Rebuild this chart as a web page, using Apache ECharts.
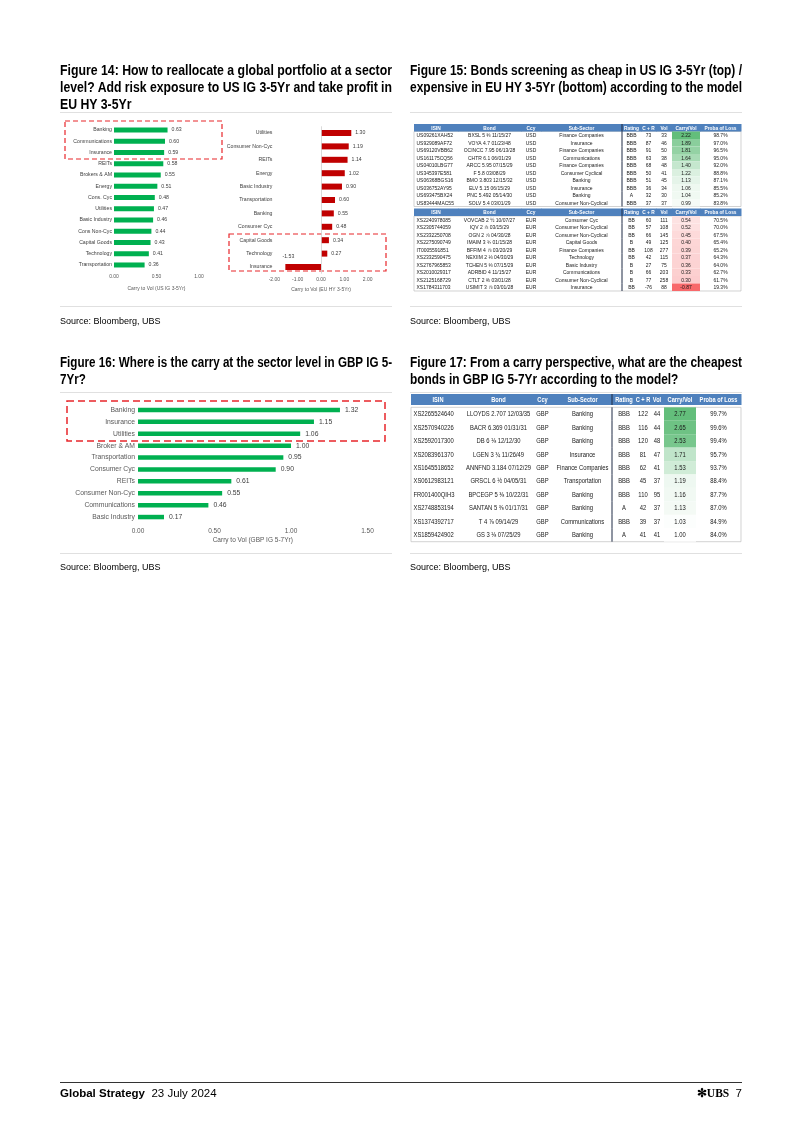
<!DOCTYPE html>
<html><head><meta charset="utf-8">
<script src="https://cdn.jsdelivr.net/npm/echarts@6/dist/echarts.min.js"></script>
<style>
html,body{margin:0;padding:0;background:#fff;}
#page{position:relative;width:802px;height:1134px;overflow:hidden;background:#fff;font-family:'Liberation Sans',Arial,sans-serif;}
#chart{position:absolute;left:0;top:0;width:802px;height:1134px;}
.title{position:absolute;font-weight:bold;font-size:14px;line-height:17px;color:#000;font-family:'Liberation Sans Narrow','Liberation Sans',Arial,sans-serif;}
.tl{white-space:nowrap;height:17px;}
.tl span{display:inline-block;transform-origin:0 50%;}
.sep{position:absolute;height:0;border-top:1px solid #e0e0e0;}
.src{position:absolute;font-size:9px;line-height:12px;color:#000;white-space:nowrap;}
.foot{position:absolute;font-size:11.5px;line-height:14px;color:#000;white-space:nowrap;}
</style></head>
<body>
<div id="page">
  <div id="chart"></div>

  <div class="title" style="left:60px;top:61.5px;" data-w="332">
    <div class="tl full"><span>Figure 14: How to reallocate a global portfolio at a sector</span></div>
    <div class="tl full"><span>level? Add risk exposure to US IG 3-5Yr and take profit in</span></div>
    <div class="tl"><span>EU HY 3-5Yr</span></div>
  </div>
  <div class="title" style="left:410px;top:61.5px;" data-w="332">
    <div class="tl full"><span>Figure 15: Bonds screening as cheap in US IG 3-5Yr (top) /</span></div>
    <div class="tl full"><span>expensive in EU HY 3-5Yr (bottom) according to the model</span></div>
  </div>
  <div class="title" style="left:60px;top:353.5px;" data-w="332">
    <div class="tl full"><span>Figure 16: Where is the carry at the sector level in GBP IG 5-</span></div>
    <div class="tl"><span>7Yr?</span></div>
  </div>
  <div class="title" style="left:410px;top:353.5px;" data-w="332">
    <div class="tl full"><span>Figure 17: From a carry perspective, what are the cheapest</span></div>
    <div class="tl"><span>bonds in GBP IG 5-7Yr according to the model?</span></div>
  </div>

  <div class="sep" style="left:60px;top:112px;width:332px;"></div>
  <div class="sep" style="left:410px;top:112px;width:332px;"></div>
  <div class="sep" style="left:60px;top:306px;width:332px;"></div>
  <div class="sep" style="left:410px;top:306px;width:332px;"></div>
  <div class="sep" style="left:60px;top:392px;width:332px;"></div>
  <div class="sep" style="left:410px;top:392px;width:332px;"></div>
  <div class="sep" style="left:60px;top:553px;width:332px;"></div>
  <div class="sep" style="left:410px;top:553px;width:332px;"></div>

  <div class="src" style="left:60px;top:315px;">Source: Bloomberg, UBS</div>
  <div class="src" style="left:410px;top:315px;">Source: Bloomberg, UBS</div>
  <div class="src" style="left:60px;top:561px;">Source: Bloomberg, UBS</div>
  <div class="src" style="left:410px;top:561px;">Source: Bloomberg, UBS</div>

  <div style="position:absolute;left:60px;top:1082px;width:682px;height:0;border-top:1.5px solid #333;"></div>
  <div class="foot" style="left:60px;top:1086px;"><b>Global Strategy</b>&nbsp; 23 July 2024</div>
  <div class="foot" style="right:60px;top:1086px;"><span style="font-family:'Liberation Serif',serif;font-weight:bold;">✻UBS</span>&nbsp; 7</div>
</div>
<script>
// ---------- DATA ----------
const usigCats = ['Banking','Communications','Insurance','REITs','Brokers & AM','Energy','Cons. Cyc','Utilities','Basic Industry','Cons Non-Cyc','Capital Goods','Technology','Transportation'];
const usigVals = [0.63,0.60,0.59,0.58,0.55,0.51,0.48,0.47,0.46,0.44,0.43,0.41,0.36];

const euhyCats = ['Utilities','Consumer Non-Cyc','REITs','Energy','Basic Industry','Transportation','Banking','Consumer Cyc','Capital Goods','Technology','Insurance'];
const euhyVals = [1.30,1.19,1.14,1.02,0.90,0.60,0.55,0.48,0.34,0.27,-1.53];

const gbpCats = ['Banking','Insurance','Utilities','Broker & AM','Transportation','Consumer Cyc','REITs','Consumer Non-Cyc','Communications','Basic Industry'];
const gbpVals = [1.32,1.15,1.06,1.00,0.95,0.90,0.61,0.55,0.46,0.17];

const tableCols = ['ISIN','Bond','Ccy','Sub-Sector','Rating','C + R','Vol','Carry/Vol','Proba of Loss'];

const usigBonds = [
 ['US09261XAH52','BXSL 5 ⅜ 11/15/27','USD','Finance Companies','BBB',73,33,2.22,'98.7%'],
 ['US929089AF72','VOYA 4.7 01/23/48','USD','Insurance','BBB',87,46,1.89,'97.0%'],
 ['US69120VBB62','OCINCC 7.95 06/13/28','USD','Finance Companies','BBB',91,50,1.81,'96.5%'],
 ['US161175CQ56','CHTR 6.1 06/01/29','USD','Communications','BBB',63,38,1.64,'95.0%'],
 ['US04010LBG77','ARCC 5.95 07/15/29','USD','Finance Companies','BBB',68,48,1.40,'92.0%'],
 ['US345397E581','F 5.8 03/08/29','USD','Consumer Cyclical','BBB',50,41,1.22,'88.8%'],
 ['US06368BGS16','BMO 3.803 12/15/32','USD','Banking','BBB',51,45,1.13,'87.1%'],
 ['US036752AY95','ELV 5.15 06/15/29','USD','Insurance','BBB',36,34,1.06,'85.5%'],
 ['US693475BX24','PNC 5.492 05/14/30','USD','Banking','A',32,30,1.04,'85.2%'],
 ['US83444MAC55','SOLV 5.4 03/01/29','USD','Consumer Non-Cyclical','BBB',37,37,0.99,'83.8%']
];
const euhyBonds = [
 ['XS2240978085','VOVCAB 2 ½ 10/07/27','EUR','Consumer Cyc','BB',60,111,0.54,'70.5%'],
 ['XS2305744059','IQV 2 ⅞ 03/15/29','EUR','Consumer Non-Cyclical','BB',57,108,0.52,'70.0%'],
 ['XS2332250708','OGN 2 ⅞ 04/30/28','EUR','Consumer Non-Cyclical','BB',66,145,0.45,'67.5%'],
 ['XS2275090749','IMAIM 3 ¾ 01/15/28','EUR','Capital Goods','B',49,125,0.40,'65.4%'],
 ['IT0005591851','BFFIM 4 ⅞ 03/20/29','EUR','Finance Companies','BB',108,277,0.39,'65.2%'],
 ['XS2332590475','NEXIIM 2 ⅛ 04/30/29','EUR','Technology','BB',42,115,0.37,'64.3%'],
 ['XS2767965853','TCHEN 5 ⅜ 07/15/29','EUR','Basic Industry','B',27,75,0.36,'64.0%'],
 ['XS2010029317','ADRBID 4 11/15/27','EUR','Communications','B',66,203,0.33,'62.7%'],
 ['XS2125168729','CTLT 2 ⅜ 03/01/28','EUR','Consumer Non-Cyclical','B',77,258,0.30,'61.7%'],
 ['XS1784311703','USIMIT 3 ⅞ 03/01/28','EUR','Insurance','BB',-76,88,-0.87,'19.3%']
];
const gbpBonds = [
 ['XS2265524640','LLOYDS 2.707 12/03/35','GBP','Banking','BBB',122,44,2.77,'99.7%'],
 ['XS2570940226','BACR 6.369 01/31/31','GBP','Banking','BBB',116,44,2.65,'99.6%'],
 ['XS2592017300','DB 6 ⅛ 12/12/30','GBP','Banking','BBB',120,48,2.53,'99.4%'],
 ['XS2083961370','LGEN 3 ¾ 11/26/49','GBP','Insurance','BBB',81,47,1.71,'95.7%'],
 ['XS1645518652','ANNFND 3.184 07/12/29','GBP','Finance Companies','BBB',62,41,1.53,'93.7%'],
 ['XS0612983121','GRSCL 6 ½ 04/05/31','GBP','Transportation','BBB',45,37,1.19,'88.4%'],
 ['FR001400QIH3','BPCEGP 5 ⅜ 10/22/31','GBP','Banking','BBB',110,95,1.16,'87.7%'],
 ['XS2748853194','SANTAN 5 ⅜ 01/17/31','GBP','Banking','A',42,37,1.13,'87.0%'],
 ['XS1374392717','T 4 ⅞ 09/14/29','GBP','Communications','BBB',39,37,1.03,'84.9%'],
 ['XS1859424902','GS 3 ⅛ 07/25/29','GBP','Banking','A',41,41,1.00,'84.0%']
];

// ---------- TITLES fit ----------
document.querySelectorAll('.title').forEach(t => {
  const W = +t.dataset.w;
  let sc = null;
  t.querySelectorAll('.tl.full span').forEach(s => {
    const w = s.getBoundingClientRect().width;
    const k = W / w; if (sc === null) sc = k;
    s.style.transform = 'scaleX(' + k + ')';
  });
  t.querySelectorAll('.tl:not(.full) span').forEach(s => { s.style.transform = 'scaleX(' + sc + ')'; });
});

// ---------- CHART ----------
const FONT = "'Liberation Sans', Arial, sans-serif";
const GREEN = '#00b050', RED = '#c00000';
const CONDENSE = 0.86;
const chart = echarts.init(document.getElementById('chart'), null, {renderer:'canvas'});

function f2(v){ return (+v).toFixed(2); }
function hideAxisParts(o){ o.axisLine={show:false}; o.axisTick={show:false}; o.splitLine={show:false}; return o; }

const option = {
  animation:false,
  grid:[], xAxis:[], yAxis:[], series:[],
  textStyle:{fontFamily:FONT}
};

function barPanel(cfg){
  const gi = option.grid.length;
  option.grid.push({left:cfg.left, top:cfg.top, width:cfg.width, height:cfg.height, outerBoundsMode:'none', containLabel:false});
  option.xAxis.push(hideAxisParts({gridIndex:gi, type:'value', min:cfg.min, max:cfg.max, interval:cfg.interval,
    axisLabel:{fontSize:cfg.tickFont, color:'#595959', margin:cfg.tickMargin, formatter:f2, fontFamily:FONT},
    name:cfg.axisName, nameLocation:'middle', nameGap:cfg.nameGap,
    nameTextStyle:{fontSize:cfg.tickFont, color:'#595959', fontFamily:FONT}}));
  const ya = hideAxisParts({gridIndex:gi, type:'category', data:cfg.cats, inverse:true,
    axisLabel:{fontSize:cfg.catFont, color:cfg.catColor || '#404040', margin:cfg.catMargin, fontFamily:FONT}});
  ya.axisLine = {show:false, onZero:false};
  option.yAxis.push(ya);
  const s = {type:'bar', xAxisIndex:gi, yAxisIndex:gi, barWidth:cfg.barWidth, silent:true,
    itemStyle:{color:cfg.color},
    label:{show:true, position:'right', distance:cfg.labelDist, fontSize:cfg.catFont, color:'#404040', fontFamily:FONT,
      formatter:p=>f2(p.value)},
    data:cfg.vals.map(v => v < 0 ? {value:v, label:{position:[3,-5], align:'center', verticalAlign:'bottom'}} : v)};
  if (cfg.zeroLine) s.markLine = {silent:true, symbol:'none', label:{show:false},
    lineStyle:{color:'#d0d0d0', width:0.8, type:'solid'}, data:[{xAxis:0}]};
  option.series.push(s);
}

barPanel({left:114, top:124.4, width:85, height:146.2, min:0, max:1, interval:0.5,
  cats:usigCats, vals:usigVals, color:GREEN, barWidth:5, tickFont:5, catFont:5.2, tickMargin:4, catMargin:2,
  labelDist:4, axisName:'Carry to Vol (US IG 3-5Yr)', nameGap:16});
barPanel({left:274.4, top:126.3, width:93.2, height:147.4, min:-2, max:2, interval:1,
  cats:euhyCats, vals:euhyVals, color:RED, barWidth:6, tickFont:5, catFont:5.2, tickMargin:3, catMargin:2,
  labelDist:4, axisName:'Carry to Vol (EU HY 3-5Yr)', nameGap:13, zeroLine:true});
barPanel({left:138, top:404, width:229.5, height:119, min:0, max:1.5, interval:0.5,
  cats:gbpCats, vals:gbpVals, color:GREEN, barWidth:4.5, tickFont:6.5, catFont:6.8, catColor:'#595959', tickMargin:5, catMargin:3,
  labelDist:5, axisName:'Carry to Vol (GBP IG 5-7Yr)', nameGap:14});

// ---------- TABLES ----------
const T12_EDGES = [0,44,107,127,208,227,242,258,286,327];
const T3_EDGES  = [0,54,121,142,201,225,239,253,285,330];

function cellColor(v, lo, hi, cLo, cHi){
  const t = Math.max(0, Math.min(1, (v - lo) / (hi - lo)));
  return echarts.color.lerp(t, [cLo, cHi]);
}

function cellText(str, x, y, align, size, color, bold){
  return {type:'text', x:x, y:y, scaleX:CONDENSE, scaleY:1,
    style:{text:str, x:0, y:0, align:align, verticalAlign:'middle',
      fontSize:size, fontWeight: bold ? 'bold' : 'normal', fontFamily:FONT, fill:color}};
}

function addTable(cfg){
  const rows = cfg.rows;
  const carry = rows.map(r => r[7]);
  const lo = Math.min(...carry), hi = Math.max(...carry);
  const edges = cfg.edges;
  // header
  let gi = option.grid.length;
  option.grid.push({left:cfg.x, top:cfg.headTop, width:cfg.w, height:cfg.headH, outerBoundsMode:'none'});
  option.xAxis.push({gridIndex:gi, type:'value', min:0, max:cfg.w, show:false});
  option.yAxis.push({gridIndex:gi, type:'value', min:0, max:1, inverse:true, show:false});
  option.series.push({type:'custom', xAxisIndex:gi, yAxisIndex:gi, silent:true, encode:{x:0,y:1},
    data: tableCols.map((c,i)=>[i,0]),
    renderItem:(params, api)=>{
      const c = api.value(0), r = api.value(1);
      const a = api.coord([edges[c], r]), b = api.coord([edges[c+1], r+1]);
      const x0=a[0], x1=b[0], y0=Math.min(a[1],b[1]), y1=Math.max(a[1],b[1]);
      const ch = [{type:'rect', shape:{x:x0,y:y0,width:x1-x0+0.5,height:y1-y0}, style:{fill:'#4f81bd'}},
        cellText(tableCols[c], (x0+x1)/2, (y0+y1)/2+0.3, 'center', cfg.hfont, '#ffffff', true)];
      if (c===4) ch.push({type:'line', shape:{x1:x0,y1:y0,x2:x0,y2:y1}, style:{stroke:'#1f2a44', lineWidth:1}});
      return {type:'group', children:ch};
    }});
  // body
  gi = option.grid.length;
  option.grid.push({left:cfg.x, top:cfg.bodyTop, width:cfg.w, height:cfg.rowH*rows.length, outerBoundsMode:'none',
    show:true, borderColor:'#bfbfbf', borderWidth:0.7, backgroundColor:'transparent'});
  option.xAxis.push({gridIndex:gi, type:'value', min:0, max:cfg.w, show:false});
  option.yAxis.push({gridIndex:gi, type:'value', min:0, max:rows.length, inverse:true, show:false});
  const data = [];
  rows.forEach((row, r) => row.forEach((v, c) => data.push([c, r])));
  option.series.push({type:'custom', xAxisIndex:gi, yAxisIndex:gi, silent:true, encode:{x:0,y:1},
    data,
    renderItem:(params, api)=>{
      const c = api.value(0), r = api.value(1);
      const a = api.coord([edges[c], r]), b = api.coord([edges[c+1], r+1]);
      const x0=a[0], x1=b[0], y0=Math.min(a[1],b[1]), y1=Math.max(a[1],b[1]);
      const v = rows[r][c];
      const ch = [];
      if (c===7) ch.push({type:'rect', shape:{x:x0,y:y0,width:x1-x0,height:y1-y0},
        style:{fill:cellColor(v, lo, hi, cfg.cLo, cfg.cHi)}});
      ch.push(cellText(c===7 ? f2(v) : String(v), c===0 ? x0+2.5 : (x0+x1)/2, (y0+y1)/2+0.3,
        c===0 ? 'left' : 'center', cfg.font, '#1a1a1a', false));
      if (c===4) ch.push({type:'line', shape:{x1:x0,y1:y0,x2:x0,y2:y1}, style:{stroke:'#1f2a44', lineWidth:1}});
      return {type:'group', children:ch};
    }});
}

addTable({x:414, w:327, headTop:124, headH:7.5, bodyTop:131.5, rowH:7.5, edges:T12_EDGES, rows:usigBonds,
  font:5.8, hfont:5.6, cLo:'#f6fbf7', cHi:'#63be7b'});
addTable({x:414, w:327, headTop:208.5, headH:7.5, bodyTop:216, rowH:7.5, edges:T12_EDGES, rows:euhyBonds,
  font:5.8, hfont:5.6, cLo:'#f8696b', cHi:'#fde2e2'});
addTable({x:411, w:330, headTop:394, headH:11, bodyTop:407.3, rowH:13.44, edges:T3_EDGES, rows:gbpBonds,
  font:6.8, hfont:6.6, cLo:'#ffffff', cHi:'#63be7b'});

// dashed highlight boxes
option.graphic = [
  {type:'rect', silent:true, shape:{x:65, y:121, width:157, height:38}, style:{fill:'none', stroke:'#e8262b', lineWidth:1.2, lineDash:[5,3]}},
  {type:'rect', silent:true, shape:{x:229, y:234, width:157, height:37}, style:{fill:'none', stroke:'#e8262b', lineWidth:1.2, lineDash:[5,3]}},
  {type:'rect', silent:true, shape:{x:67, y:401, width:318, height:40}, style:{fill:'none', stroke:'#e8262b', lineWidth:1.5, lineDash:[7,4]}}
];

chart.setOption(option);
</script>
</body></html>
